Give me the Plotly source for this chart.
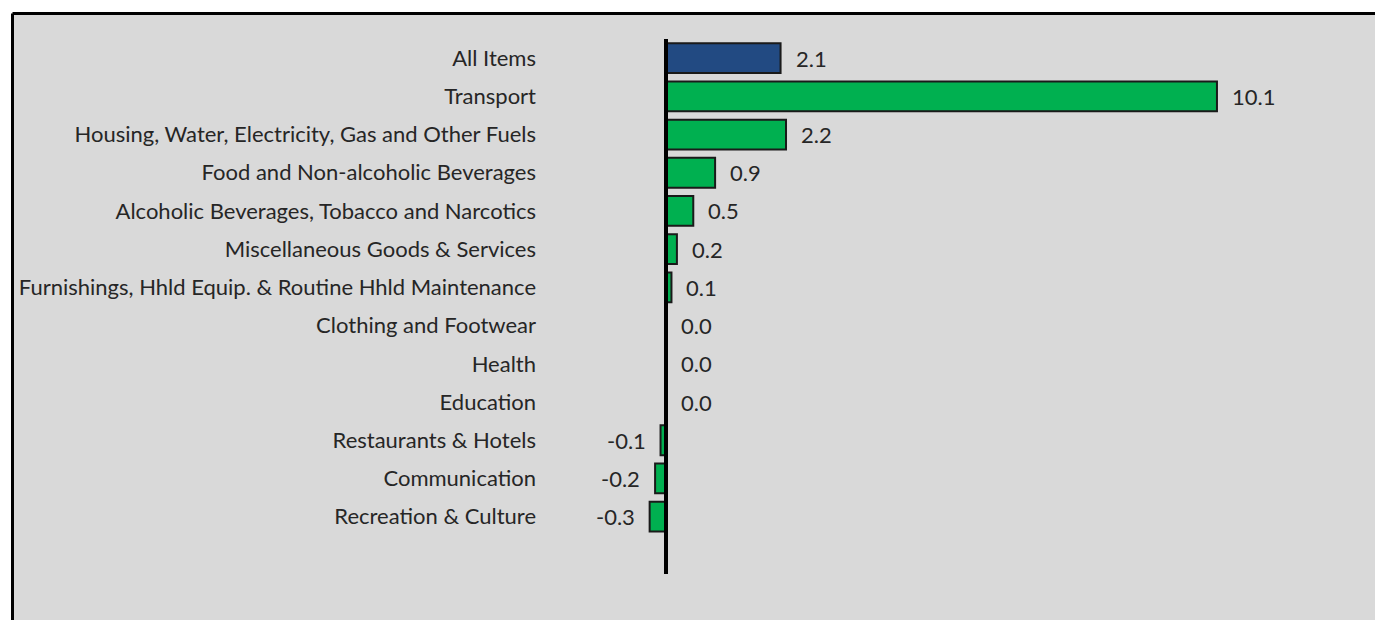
import plotly.graph_objects as go

categories = [
    "All Items",
    "Transport",
    "Housing, Water, Electricity, Gas and Other Fuels",
    "Food and Non-alcoholic Beverages",
    "Alcoholic Beverages, Tobacco and Narcotics",
    "Miscellaneous Goods & Services",
    "Furnishings, Hhld Equip. & Routine Hhld Maintenance",
    "Clothing and Footwear",
    "Health",
    "Education",
    "Restaurants & Hotels",
    "Communication",
    "Recreation & Culture",
]
values = [2.1, 10.1, 2.2, 0.9, 0.5, 0.2, 0.1, 0.0, 0.0, 0.0, -0.1, -0.2, -0.3]
labels = ["2.1", "10.1", "2.2", "0.9", "0.5", "0.2", "0.1", "0.0", "0.0", "0.0", "-0.1", "-0.2", "-0.3"]

W, H = 1375, 620
ML, MR, MT, MB = 545, 75, 39, 46
PW = W - ML - MR
PH = H - MT - MB
ZERO_PX = 666
PX_PER_UNIT = 54.55

colors = ["#224a82"] + ["#00b050"] * (len(categories) - 1)

fig = go.Figure()
fig.add_trace(go.Bar(
    y=categories,
    x=values,
    orientation="h",
    width=0.78,
    marker=dict(color=colors, line=dict(color="#1a1a1a", width=2)),
    hoverinfo="skip",
))

font_family = "Lato, 'Open Sans', sans-serif"
text_color = "#262626"
FS = 22

annotations = []
for cat, v, lab in zip(categories, values, labels):
    pos = v >= 0
    annotations.append(dict(
        x=v, y=cat, xref="x", yref="y",
        text=lab, showarrow=False,
        xanchor="left" if pos else "right",
        xshift=13 if pos else -13,
        font=dict(family=font_family, size=FS, color=text_color),
    ))

def px_to_paper_x(px):
    return (px - ML) / PW

def px_to_paper_y(py):
    return (H - MB - py) / PH

bx0, bx1 = px_to_paper_x(12.5), px_to_paper_x(W + 30)
by0, by1 = px_to_paper_y(H + 30), px_to_paper_y(13.5)

shapes = [
    dict(type="rect", xref="paper", yref="paper",
         x0=bx0, x1=bx1, y0=by0, y1=by1,
         fillcolor="#d9d9d9", line=dict(width=0), layer="below"),
    dict(type="line", xref="paper", yref="paper",
         x0=bx0, x1=bx1, y0=by1, y1=by1,
         line=dict(color="black", width=3), layer="below"),
    dict(type="line", xref="paper", yref="paper",
         x0=bx0, x1=bx0, y0=by0, y1=by1,
         line=dict(color="black", width=3), layer="below"),
    dict(type="line", xref="x", yref="y",
         x0=0, x1=0, y0=-0.5, y1=13.5,
         line=dict(color="black", width=4), layer="above"),
]

xmin = (ML - ZERO_PX) / PX_PER_UNIT
xmax = (W - MR - ZERO_PX) / PX_PER_UNIT

fig.update_layout(
    width=W, height=H,
    margin=dict(l=ML, r=MR, t=MT, b=MB, pad=0),
    paper_bgcolor="white",
    plot_bgcolor="rgba(0,0,0,0)",
    showlegend=False,
    hovermode=False,
    shapes=shapes,
    annotations=annotations,
    xaxis=dict(range=[xmin, xmax], showticklabels=False, showgrid=False,
               zeroline=False, showline=False, fixedrange=True),
    yaxis=dict(type="category", range=[13.5, -0.5], showgrid=False,
               zeroline=False, showline=False, ticks="", fixedrange=True,
               ticklabelstandoff=8,
               tickfont=dict(family=font_family, size=FS, color=text_color)),
)

fig.write_html(
    "out.html",
    config={"displayModeBar": False, "staticPlot": True},
    post_script=(
        "document.documentElement.style.overflow='hidden';"
        "document.documentElement.style.margin='0px';"
        "document.body.style.margin='0px';"
        "document.body.style.overflow='hidden';"
        "document.body.style.background='#d9d9d9';"
    ),
)
